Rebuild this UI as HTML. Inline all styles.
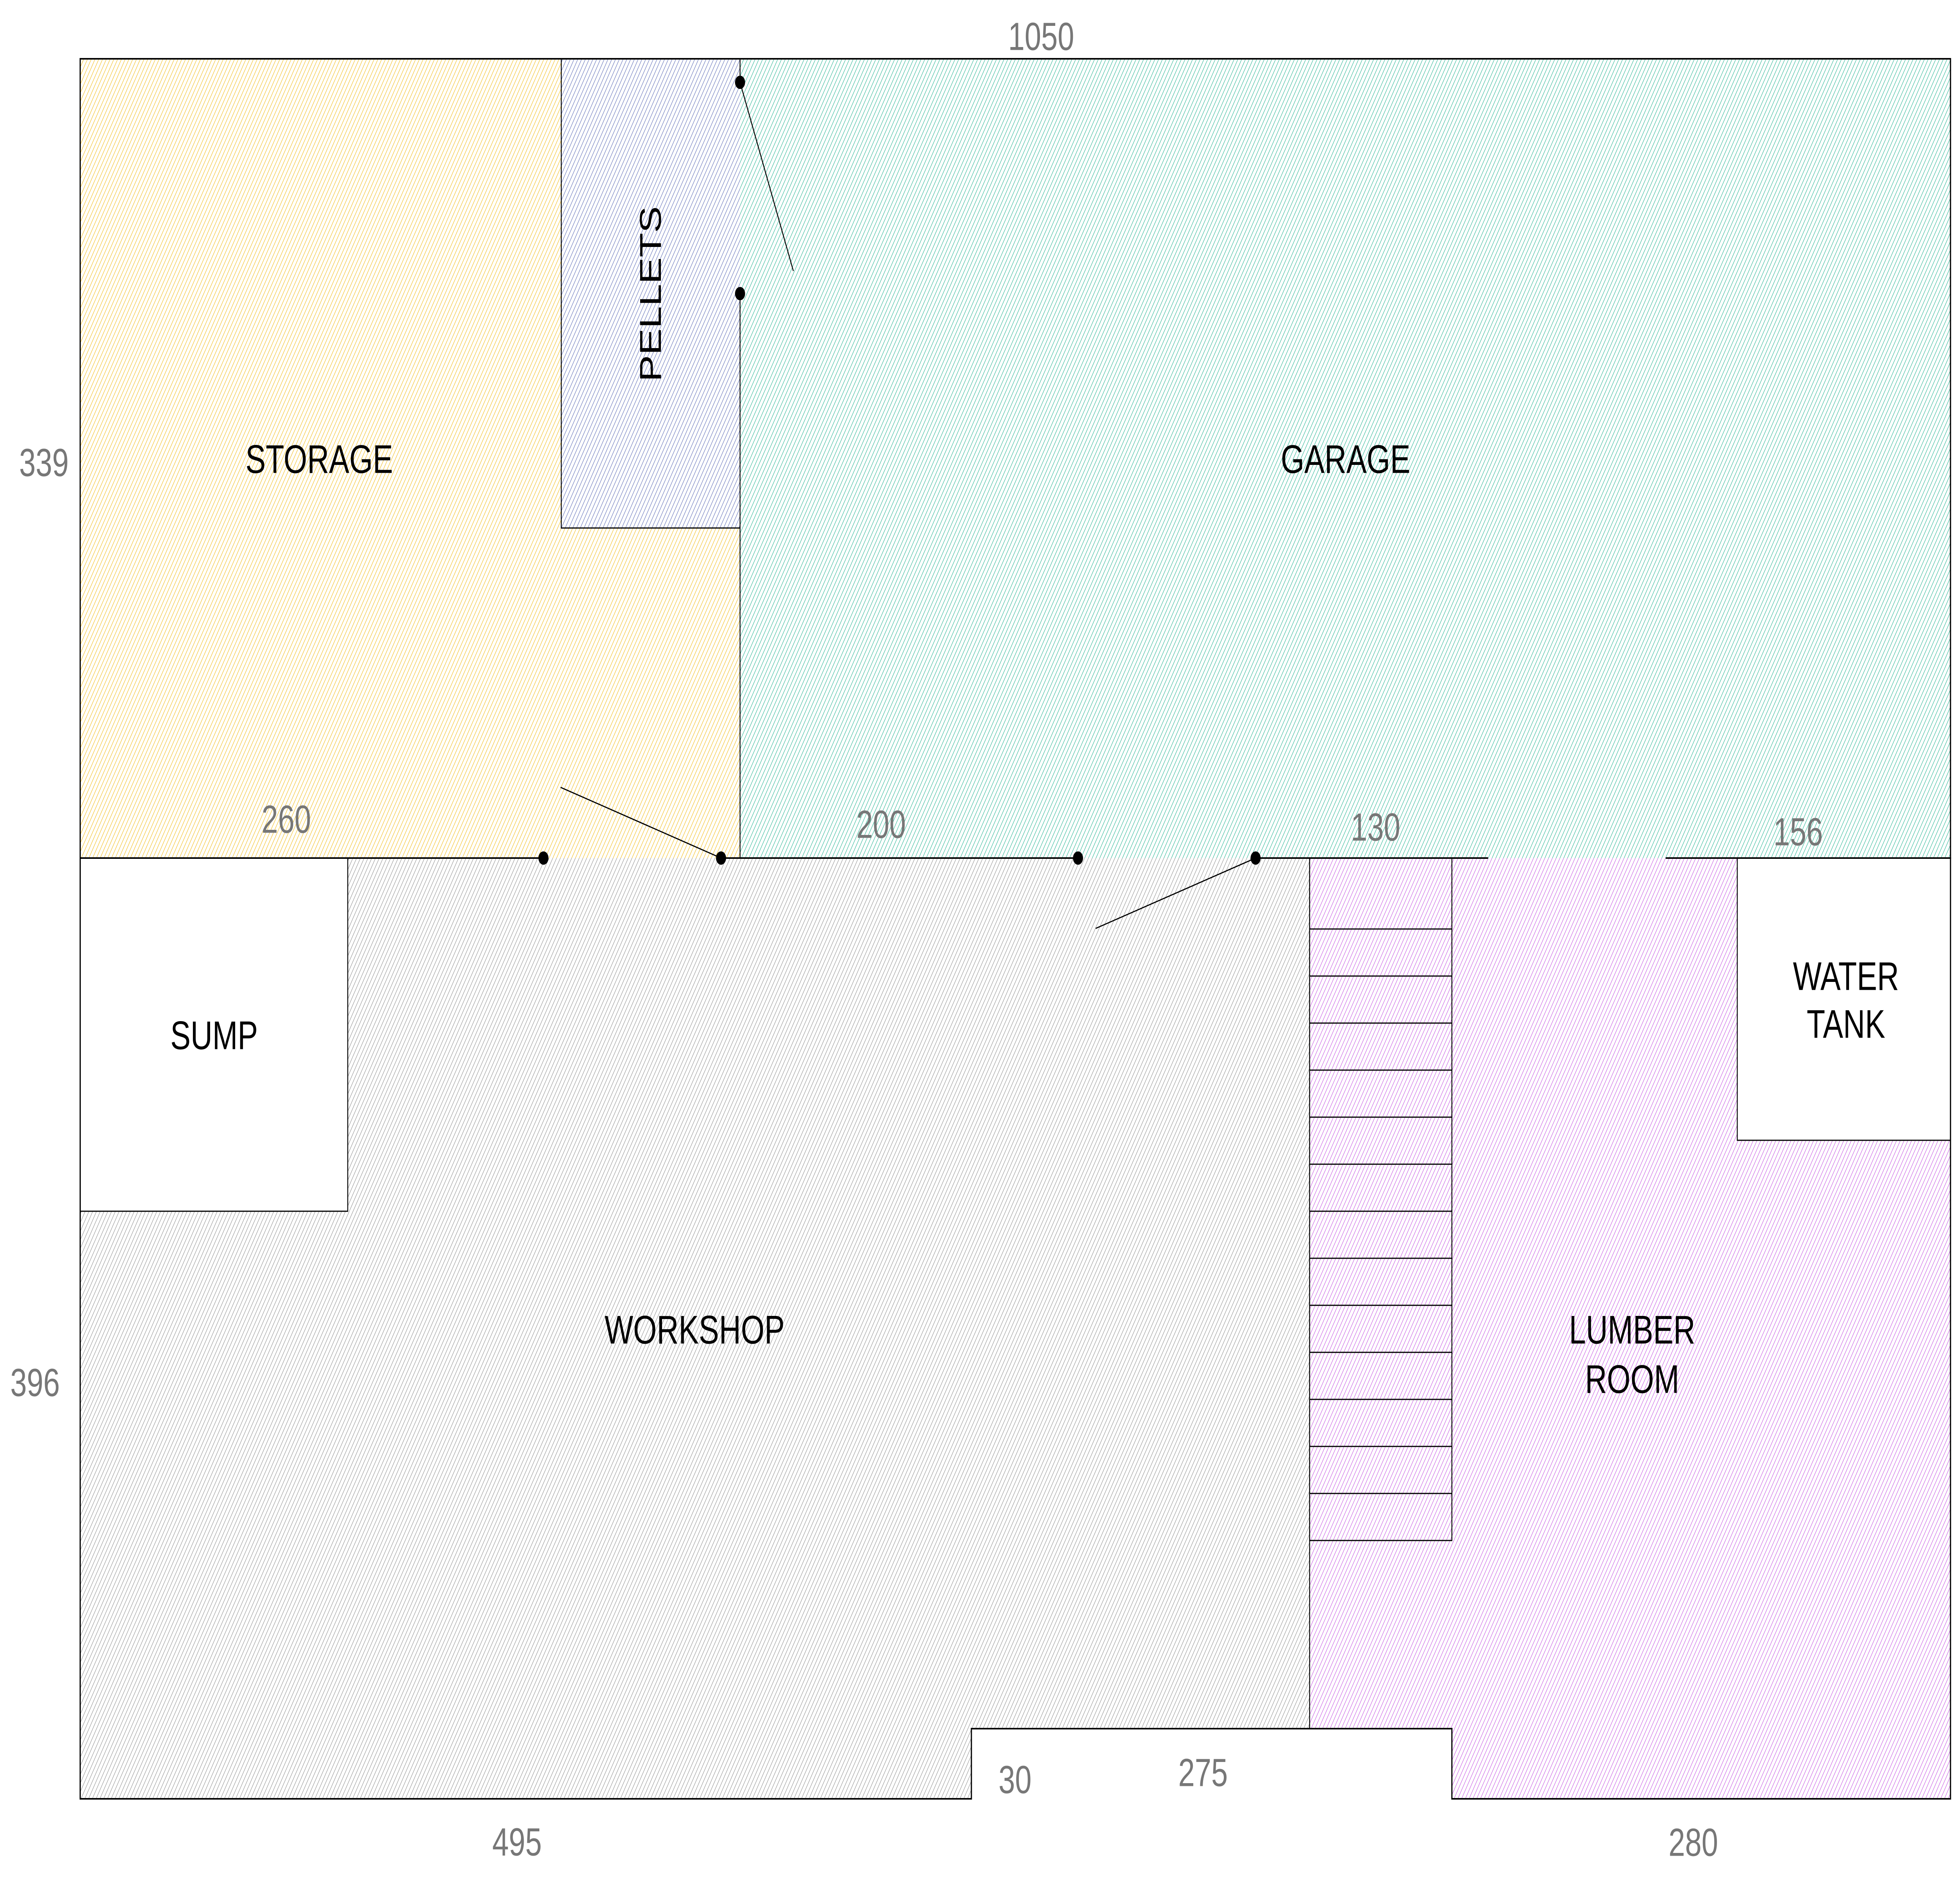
<!DOCTYPE html>
<html><head><meta charset="utf-8"><style>
html,body{margin:0;padding:0;background:#fff;width:100%;height:100%;overflow:hidden;}
svg{display:block;position:fixed;left:0;top:0;width:100vw;height:100vh;}
text{font-family:"Liberation Sans",sans-serif;}
</style></head><body>
<svg viewBox="0 0 6600 4791" preserveAspectRatio="none" xmlns="http://www.w3.org/2000/svg">
<defs>
<pattern id="pO" width="11" height="11" patternUnits="userSpaceOnUse" patternTransform="rotate(30)"><line x1="0" y1="0" x2="0" y2="11" stroke="#f2b705" stroke-width="2.5"/></pattern>
<pattern id="pB" width="11" height="11" patternUnits="userSpaceOnUse" patternTransform="rotate(30)"><line x1="0" y1="0" x2="0" y2="11" stroke="#5470e0" stroke-width="2.5"/></pattern>
<pattern id="pG" width="11" height="11" patternUnits="userSpaceOnUse" patternTransform="rotate(30)"><line x1="0" y1="0" x2="0" y2="11" stroke="#19b08c" stroke-width="2.5"/></pattern>
<pattern id="pW" width="11" height="11" patternUnits="userSpaceOnUse" patternTransform="rotate(30)"><line x1="0" y1="0" x2="0" y2="11" stroke="#8a8a8a" stroke-width="2.5"/></pattern>
<pattern id="pP" width="11" height="11" patternUnits="userSpaceOnUse" patternTransform="rotate(30)"><line x1="0" y1="0" x2="0" y2="11" stroke="#c24ae0" stroke-width="2.5"/></pattern>
</defs>
<rect x="270" y="150" width="2222" height="2039" fill="url(#pO)"/>
<rect x="1890" y="150" width="602" height="1197" fill="url(#pB)"/>
<rect x="2492" y="150" width="4076" height="2039" fill="url(#pG)"/>
<polygon points="270,2189 4410,2189 4410,4410 3271,4410 3271,4589 270,4589" fill="url(#pW)"/>
<polygon points="4410,2189 6568,2189 6568,4589 4889,4589 4889,4410 4410,4410" fill="url(#pP)"/>
<rect x="270" y="2189" width="901" height="901" fill="#fff"/>
<rect x="5850" y="2189" width="718" height="720" fill="#fff"/>
<g stroke="#000" fill="none" stroke-linecap="square">
<polyline points="270,150 6568,150 6568,4589 4889,4589 4889,4410 3271,4410 3271,4589 270,4589 270,150" stroke-width="4"/>
<line x1="270" y1="2189" x2="1830" y2="2189" stroke-width="4"/>
<line x1="2428" y1="2189" x2="3630" y2="2189" stroke-width="4"/>
<line x1="4228" y1="2189" x2="5009" y2="2189" stroke-width="4"/>
<line x1="5611" y1="2189" x2="6568" y2="2189" stroke-width="4"/>
<line x1="2492" y1="150" x2="2492" y2="210" stroke-width="3"/>
<line x1="2492" y1="749" x2="2492" y2="2189" stroke-width="3"/>
<line x1="1890" y1="150" x2="1890" y2="1347" stroke-width="3"/>
<line x1="1890" y1="1347" x2="2492" y2="1347" stroke-width="3"/>
<polyline points="1171,2189 1171,3090 270,3090" stroke-width="3"/>
<polyline points="5850,2189 5850,2909 6568,2909" stroke-width="3"/>
<line x1="4410" y1="2189" x2="4410" y2="4410" stroke-width="3"/>
<rect x="4410" y="2189" width="479" height="1741" stroke-width="3"/>
<path d="M4410 2370H4889M4410 2490H4889M4410 2610H4889M4410 2730H4889M4410 2850H4889M4410 2970H4889M4410 3090H4889M4410 3210H4889M4410 3330H4889M4410 3450H4889M4410 3570H4889M4410 3690H4889M4410 3810H4889" stroke-width="3"/>
<line x1="2492" y1="210" x2="2671" y2="690" stroke-width="3"/>
<line x1="1889" y1="2009" x2="2428" y2="2189" stroke-width="3"/>
<line x1="3691" y1="2368" x2="4228" y2="2189" stroke-width="3"/>
</g>
<g fill="#000">
<circle cx="2492" cy="210" r="17"/><circle cx="2492" cy="749" r="17"/>
<circle cx="1830" cy="2189" r="17"/><circle cx="2428" cy="2189" r="17"/>
<circle cx="3630" cy="2189" r="17"/><circle cx="4228" cy="2189" r="17"/>
</g>
<g font-size="102" fill="#000" text-anchor="middle" dominant-baseline="central">
<text x="1075" y="1172">STORAGE</text>
<text x="4531" y="1172">GARAGE</text>
<text x="721" y="2642">SUMP</text>
<text x="2339" y="3393">WORKSHOP</text>
<text x="5496" y="3393">LUMBER</text>
<text x="5496" y="3519">ROOM</text>
<text x="6216" y="2491">WATER</text>
<text x="6216" y="2613">TANK</text>
<text x="2191" y="750" transform="rotate(-90 2191 750)">PELLETS</text>
</g>
<g font-size="100" fill="#777" text-anchor="middle" dominant-baseline="central">
<text x="3506" y="93">1050</text>
<text x="148" y="1180">339</text>
<text x="118" y="3527">396</text>
<text x="1741" y="4699">495</text>
<text x="964" y="2090">260</text>
<text x="2967" y="2103">200</text>
<text x="4632" y="2110">130</text>
<text x="6055" y="2122">156</text>
<text x="3418" y="4540">30</text>
<text x="4051" y="4522">275</text>
<text x="5702" y="4700">280</text>
</g>
</svg>
</body></html>
